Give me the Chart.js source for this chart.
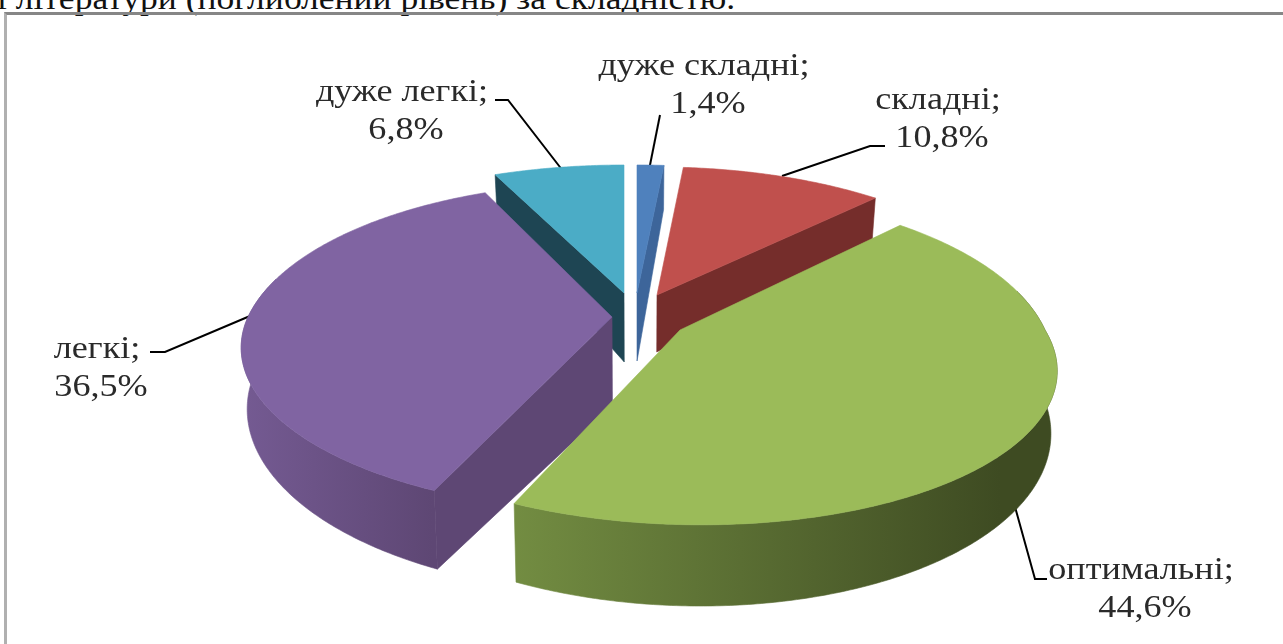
<!DOCTYPE html>
<html lang="uk"><head><meta charset="utf-8">
<style>
html,body{margin:0;padding:0;background:#fff;overflow:hidden}
#wrap{position:relative;width:1283px;height:644px;overflow:hidden}
#c{position:absolute;left:0;top:0}
#intro{position:absolute;left:-3px;top:-20px;font:32px "Liberation Serif",serif;color:#111;white-space:nowrap;transform-origin:0 0;transform:scaleX(1.11)}
#frame{position:absolute;left:4px;top:12px;width:1400px;height:700px;border-top:3px solid #868686;border-left:3px solid #b0b0b0;box-sizing:border-box}
</style></head><body>
<div id="wrap">
<div id="intro">і літератури (поглиблений рівень) за складністю.</div>
<div id="frame"></div>
<canvas id="c" width="1283" height="644"></canvas>
</div>
<script src="https://cdn.jsdelivr.net/npm/chart.js@4"></script>
<script>
const categories = ["дуже складні", "складні", "оптимальні", "легкі", "дуже легкі"];
const shares = [1.4, 10.8, 44.6, 36.5, 6.8];
const topColors = ["#4f81bd", "#c0504d", "#9bbb59", "#8064a2", "#4bacc6"];
const faceColors = ["#3d659a", "#752d2b", "#5d7336", "#5e4774", "#1e4553"];
const rimLeft = ["#3d659a", "#752d2b", "#738d42", "#745a92", "#1e4553"];
const rimRight = ["#3d659a", "#752d2b", "#3e4b22", "#5e4774", "#1e4553"];
const rimFromX = [637, 657, 510, 245, 497];
const rimToX = [662, 875, 1000, 432, 624];

// layout of the perspective drawing
const apexX = [637, 657, 680, 612, 624];
const apexY = [293, 295, 330, 317, 293];
const apexDepth = [68, 57, 68, 88, 69];
const sliceA = [370, 362, 365, 364, 370];
const backScale = [1, 1, 1.08, 1.05, 1];
const frontSkew = [0, 0, 17, 6, 0];
const paintOrder = [4, 0, 1, 3, 2];
const labelX = [704, 938, 1141, 97, 402];
const labelY = [67, 101, 571, 350, 93];
const leaderX = [[649,660],[782,870,885],[1012,1035,1047],[250,165,150],[563,508,495]];
const leaderY = [[170,115],[176,146,146],[496,579,579],[316,352,352],[171,100,100]];
const B = 154.5, K = 0.207, C = 58, M = 0.015;
const TEXT_STRETCH = 1.13;

function pt(i, th, r, low) {
  const u = r * Math.sin(th), v = r * Math.cos(th), w = 1 + K * v;
  let x = apexX[i] + (sliceA[i] * u - frontSkew[i] * Math.min(v, 0)) / w;
  let y = apexY[i] - B * v / w * (v > 0 ? backScale[i] : 1);
  if (low) {
    y += r === 0 ? apexDepth[i] : C / Math.pow(w, 1.45);
    x -= M * (x - 640);
  }
  return [x, y];
}
function poly(ctx, pts, fill) {
  ctx.beginPath();
  pts.forEach((p, n) => n ? ctx.lineTo(p[0], p[1]) : ctx.moveTo(p[0], p[1]));
  ctx.closePath();
  ctx.fillStyle = fill; ctx.strokeStyle = fill; ctx.lineWidth = 0.6;
  ctx.fill(); ctx.stroke();
}
function drawSlice(ctx, i, s, e) {
  const radial = th => poly(ctx, [pt(i,th,0,false), pt(i,th,1,false), pt(i,th,1,true), pt(i,th,0,true)], faceColors[i]);
  if (Math.sin(s) < 0) radial(s);
  if (Math.sin(e) > 0.01) radial(e);
  const g = ctx.createLinearGradient(rimFromX[i], 0, rimToX[i], 0);
  g.addColorStop(0, rimLeft[i]); g.addColorStop(1, rimRight[i]);
  const n = Math.ceil((e - s) / 0.01), lo = [], hi = [];
  for (let k = 0; k <= n; k++) {
    const th = s + (e - s) * k / n;
    if (Math.cos(th) < 0.25) { hi.push(pt(i,th,1,false)); lo.unshift(pt(i,th,1,true)); }
  }
  if (hi.length > 1) poly(ctx, hi.concat(lo), g);
  const top = [pt(i,s,0,false)];
  for (let k = 0; k <= n; k++) top.push(pt(i, s + (e - s) * k / n, 1, false));
  poly(ctx, top, topColors[i]);
}
function drawText(ctx, str, x, y) {
  ctx.save();
  ctx.translate(x, y);
  ctx.scale(TEXT_STRETCH, 1);
  ctx.fillText(str, 0, 0);
  ctx.restore();
}
const pie3d = {
  id: "pie3d",
  beforeDatasetDraw(chart) {
    const ctx = chart.ctx, arcs = chart.getDatasetMeta(0).data;
    ctx.strokeStyle = "#000"; ctx.lineWidth = 2; ctx.lineJoin = "miter";
    leaderX.forEach((xs, i) => {
      ctx.beginPath();
      xs.forEach((x, n) => n ? ctx.lineTo(x, leaderY[i][n]) : ctx.moveTo(x, leaderY[i][n]));
      ctx.stroke();
    });
    paintOrder.forEach(i => drawSlice(ctx, i, arcs[i].startAngle + Math.PI/2, arcs[i].endAngle + Math.PI/2));
    ctx.fillStyle = "#2a2a2a"; ctx.textAlign = "center"; ctx.textBaseline = "middle";
    ctx.font = '32px "Liberation Serif", serif';
    categories.forEach((name, i) => {
      drawText(ctx, name + ";", labelX[i], labelY[i]);
      drawText(ctx, String(shares[i]).replace(".", ",") + "%", labelX[i] + 4, labelY[i] + 38);
    });
    return false;
  }
};
new Chart(document.getElementById("c"), {
  type: "pie",
  data: { labels: categories, datasets: [{ data: shares, backgroundColor: topColors, borderWidth: 0 }] },
  options: { responsive: false, animation: false,
    plugins: { legend: { display: false }, tooltip: { enabled: false } } },
  plugins: [pie3d]
});
</script>
</body></html>
